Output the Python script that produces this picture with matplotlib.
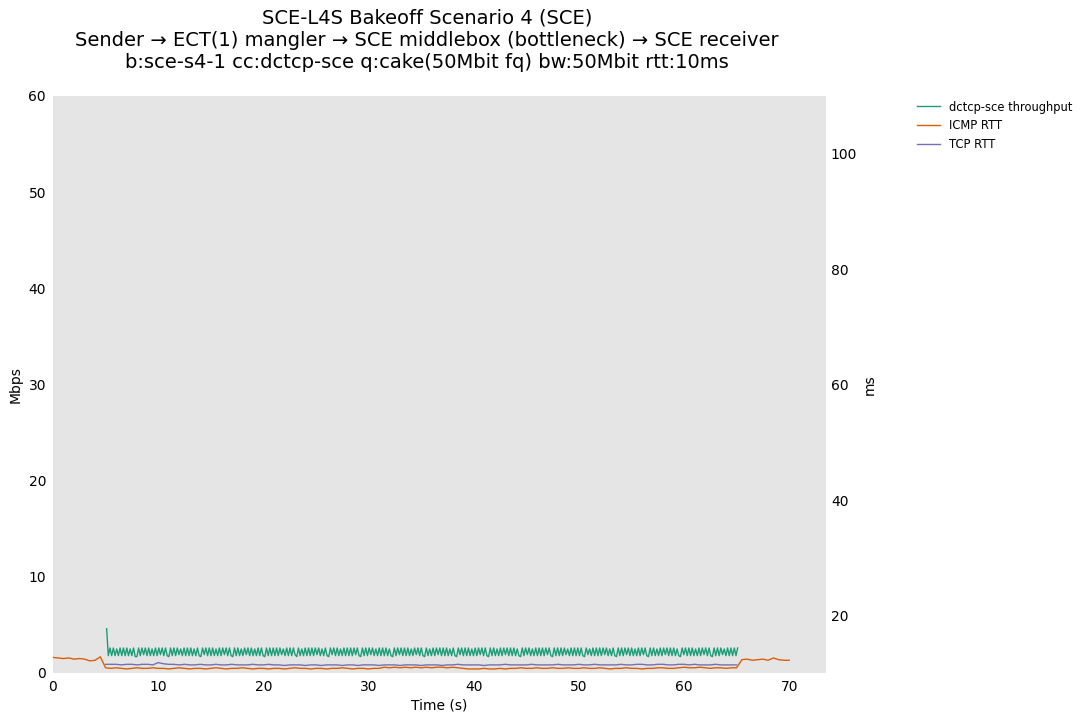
import numpy as np
import matplotlib.pyplot as plt

# throughput samples (Mbps), one every 0.16 s starting at 5.1 s
tput_start = 5.1
tput_step = 0.16
tput = [
    4.6, 1.8, 2.6, 1.8, 2.6, 1.8, 2.5, 1.8, 2.6, 1.8, 2.6, 1.8, 2.6, 1.8, 2.5, 1.8, 2.6, 1.7, 1.7,
    2.6, 1.8, 2.6, 1.9, 2.6, 1.8, 2.6, 1.8, 2.5, 1.8, 2.6, 1.8, 2.6, 1.9, 2.6, 1.8, 2.6, 1.8, 1.7,
    2.6, 1.8, 2.6, 1.8, 2.6, 1.9, 2.5, 1.8, 2.6, 1.8, 2.6, 1.8, 2.6, 1.8, 2.5, 1.8, 2.6, 1.8, 1.7,
    2.6, 1.9, 2.6, 1.8, 2.6, 1.8, 2.6, 1.8, 2.5, 1.8, 2.6, 1.8, 2.6, 1.9, 2.6, 1.8, 2.6, 1.8, 1.7,
    2.6, 1.8, 2.6, 1.8, 2.5, 1.8, 2.6, 1.9, 2.6, 1.8, 2.6, 1.8, 2.5, 1.8, 2.6, 1.8, 2.6, 1.8, 1.7,
    2.6, 1.8, 2.6, 1.8, 2.6, 1.8, 2.6, 1.8, 2.6, 1.9, 2.5, 1.8, 2.6, 1.8, 2.6, 1.8, 2.6, 1.9, 1.7,
    2.6, 1.8, 2.5, 1.8, 2.6, 1.8, 2.6, 1.8, 2.6, 1.8, 2.6, 1.9, 2.6, 1.8, 2.5, 1.8, 2.6, 1.8, 1.7,
    2.6, 1.9, 2.6, 1.8, 2.6, 1.8, 2.5, 1.8, 2.6, 1.8, 2.6, 1.8, 2.6, 1.8, 2.6, 1.9, 2.6, 1.8, 1.7,
    2.6, 1.8, 2.6, 1.8, 2.6, 1.9, 2.6, 1.8, 2.5, 1.8, 2.6, 1.8, 2.6, 1.8, 2.6, 1.8, 2.5, 1.8, 1.7,
    2.6, 1.8, 2.6, 1.9, 2.6, 1.8, 2.6, 1.8, 2.6, 1.8, 2.5, 1.8, 2.6, 1.9, 2.6, 1.8, 2.6, 1.8, 1.7,
    2.6, 1.8, 2.5, 1.8, 2.6, 1.8, 2.6, 1.9, 2.6, 1.8, 2.6, 1.8, 2.6, 1.8, 2.5, 1.8, 2.6, 1.8, 1.7,
    2.6, 1.9, 2.6, 1.8, 2.6, 1.8, 2.6, 1.8, 2.5, 1.8, 2.6, 1.8, 2.6, 1.9, 2.6, 1.8, 2.6, 1.8, 1.7,
    2.6, 1.8, 2.6, 1.8, 2.5, 1.8, 2.6, 1.8, 2.6, 1.9, 2.6, 1.8, 2.6, 1.8, 2.6, 1.8, 2.5, 1.8, 1.7,
    2.6, 1.8, 2.6, 1.9, 2.6, 1.8, 2.5, 1.8, 2.6, 1.8, 2.6, 1.8, 2.6, 1.8, 2.6, 1.9, 2.6, 1.8, 1.7,
    2.6, 1.8, 2.6, 1.8, 2.6, 1.8, 2.6, 1.9, 2.5, 1.8, 2.6, 1.8, 2.6, 1.8, 2.6, 1.8, 2.6, 1.8, 1.7,
    2.6, 1.9, 2.5, 1.8, 2.6, 1.8, 2.6, 1.8, 2.6, 1.8, 2.6, 1.9, 2.6, 1.8, 2.5, 1.8, 2.6, 1.8, 1.7,
    2.6, 1.8, 2.6, 1.8, 2.6, 1.9, 2.6, 1.8, 2.6, 1.8, 2.5, 1.8, 2.6, 1.8, 2.6, 1.9, 2.6, 1.8, 1.7,
    2.6, 1.8, 2.6, 1.8, 2.5, 1.8, 2.6, 1.8, 2.6, 1.9, 2.6, 1.8, 2.6, 1.8, 2.6, 1.8, 2.5, 1.8, 1.7,
    2.6, 1.9, 2.6, 1.8, 2.6, 1.8, 2.6, 1.8, 2.5, 1.8, 2.6, 1.8, 2.6, 1.9, 2.6, 1.8, 2.6, 1.8, 1.7,
    2.6, 1.8, 2.6, 1.8, 2.6, 1.9, 2.5, 1.8, 2.6, 1.8, 2.6, 1.8, 2.6, 1.8, 2.6,
]

# ICMP RTT (ms), one every 0.5 s from 0 to 70 s
icmp_step = 0.5
icmp_rtt = [
    12.8, 12.7, 12.6, 12.7, 12.5, 12.6, 12.5, 12.2, 12.3, 12.9, 11.0,
    10.9, 11.0, 10.9, 10.8, 10.9, 11.0, 10.9, 10.9, 11.0, 10.9,
    10.9, 10.8, 10.9, 11.0, 10.9, 10.8, 10.9, 10.9, 10.8, 10.9,
    11.0, 10.9, 10.8, 10.9, 10.9, 11.0, 10.9, 10.8, 10.9, 10.9,
    10.8, 10.9, 10.9, 10.8, 10.9, 11.0, 10.9, 10.9, 10.8, 10.9,
    10.9, 10.8, 10.9, 10.9, 11.0, 10.9, 10.8, 10.9, 10.9, 10.8,
    10.9, 10.9, 11.1, 11.0, 11.1, 11.0, 11.1, 11.0, 11.1, 11.0,
    11.1, 11.0, 11.1, 11.1, 11.0, 11.1, 11.0, 10.9, 10.8, 10.8,
    10.8, 10.9, 10.8, 10.8, 10.9, 10.8, 10.9, 10.9, 11.0, 10.9,
    10.9, 11.0, 10.9, 10.9, 11.0, 10.9, 10.9, 11.0, 10.9, 10.9,
    11.0, 10.9, 10.9, 11.0, 10.9, 10.8, 10.9, 10.9, 11.0, 10.9,
    10.9, 10.8, 10.9, 10.9, 11.0, 11.0, 10.9, 10.9, 11.0, 11.1,
    11.0, 11.0, 11.1, 11.0, 10.9, 11.0, 11.0, 10.9, 11.0, 11.0,
    12.4, 12.5, 12.3, 12.4, 12.5, 12.3, 12.7, 12.4, 12.3, 12.3,
]

# TCP RTT (ms), one every 0.5 s from 5 to 65 s
tcp_start = 5.0
tcp_step = 0.5
tcp_rtt = [
    11.6, 11.6, 11.6, 11.5, 11.6, 11.6, 11.5, 11.6, 11.6, 11.5,
    11.9, 11.7, 11.6, 11.6, 11.5, 11.6, 11.5, 11.5, 11.6, 11.5,
    11.5, 11.6, 11.5, 11.5, 11.6, 11.5, 11.5, 11.5, 11.6, 11.5,
    11.5, 11.6, 11.5, 11.5, 11.4, 11.5, 11.5, 11.5, 11.4, 11.5,
    11.5, 11.4, 11.5, 11.5, 11.5, 11.4, 11.5, 11.5, 11.4, 11.5,
    11.5, 11.5, 11.4, 11.5, 11.5, 11.5, 11.4, 11.5, 11.5, 11.5,
    11.4, 11.5, 11.5, 11.5, 11.4, 11.5, 11.5, 11.6, 11.5, 11.5,
    11.5, 11.5, 11.4, 11.5, 11.5, 11.5, 11.6, 11.5, 11.5, 11.5,
    11.5, 11.6, 11.5, 11.5, 11.5, 11.5, 11.6, 11.5, 11.5, 11.5,
    11.6, 11.5, 11.5, 11.6, 11.5, 11.5, 11.5, 11.5, 11.6, 11.5,
    11.5, 11.6, 11.6, 11.5, 11.5, 11.6, 11.6, 11.5, 11.5, 11.6,
    11.6, 11.5, 11.6, 11.5, 11.5, 11.5, 11.6, 11.5, 11.5, 11.5,
    11.5,
]

t_tput = tput_start + tput_step * np.arange(len(tput))
t_icmp = icmp_step * np.arange(len(icmp_rtt))
t_tcp = tcp_start + tcp_step * np.arange(len(tcp_rtt))

colors = ['#1b9e77', '#d95f02', '#7570b3']

fig = plt.figure(figsize=(10.88, 7.21), dpi=100)
ax = fig.add_axes([0.0487, 0.0666, 0.7105, 0.8003])
ax2 = ax.twinx()

l1, = ax.plot(t_tput, tput, color=colors[0], lw=1, label='dctcp-sce throughput')
l2, = ax2.plot(t_icmp, icmp_rtt, color=colors[1], lw=1, label='ICMP RTT')
l3, = ax2.plot(t_tcp, tcp_rtt, color=colors[2], lw=1, label='TCP RTT')

ax.set_facecolor('#e5e5e5')
ax.set_xlim(0, 73.5)
ax.set_ylim(0, 60)
ax2.set_ylim(10.1, 110)
ax.set_xticks(range(0, 71, 10))
ax.set_yticks(range(0, 61, 10))
ax2.set_yticks([20, 40, 60, 80, 100])
ax.set_xlabel('Time (s)', labelpad=3)
ax.set_ylabel('Mbps')
ax2.set_ylabel('ms', labelpad=4)

for a in (ax, ax2):
    for s in a.spines.values():
        s.set_visible(False)
    a.tick_params(length=0, labelsize=10, pad=5)
ax2.tick_params(pad=3.5)

fig.suptitle('SCE-L4S Bakeoff Scenario 4 (SCE)\n'
             'Sender \u2192 ECT(1) mangler \u2192 SCE middlebox (bottleneck) \u2192 SCE receiver\n'
             'b:sce-s4-1 cc:dctcp-sce q:cake(50Mbit fq) bw:50Mbit rtt:10ms',
             x=0.3925, y=0.988, fontsize=14)

fig.legend(handles=[l1, l2, l3], loc='upper left', bbox_to_anchor=(0.833, 0.875),
           frameon=False, fontsize=8.3)

fig.savefig('out.png', dpi=100)
